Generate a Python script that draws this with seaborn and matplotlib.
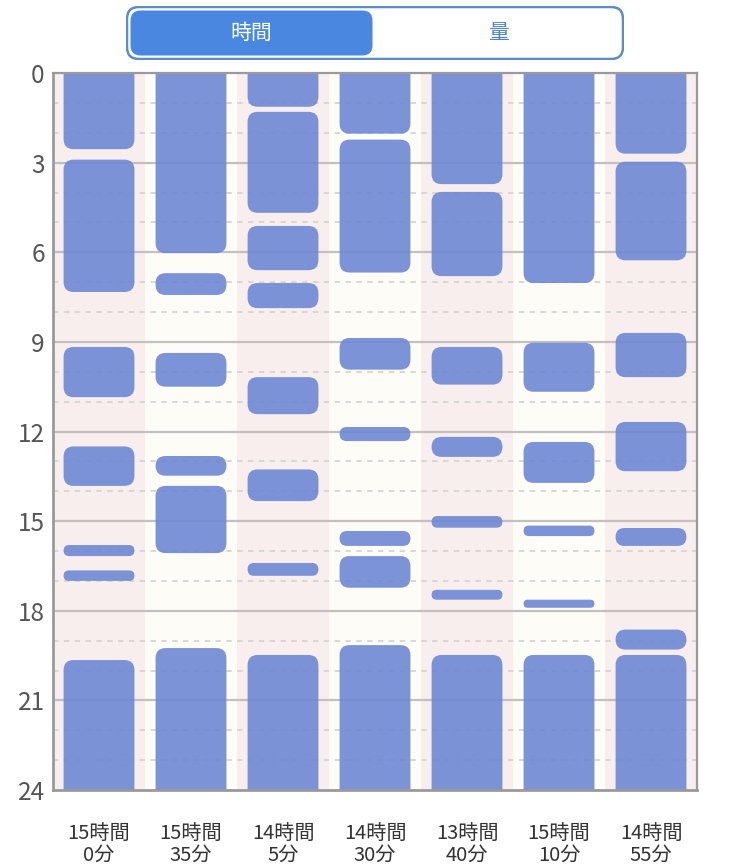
import matplotlib
matplotlib.use("Agg")
import matplotlib.pyplot as plt
from matplotlib.patches import FancyBboxPatch
import seaborn as sns

# ---------------- data ----------------
day_labels = ["15時間\n0分", "15時間\n35分", "14時間\n5分", "14時間\n30分",
              "13時間\n40分", "15時間\n10分", "14時間\n55分"]

# sleep segments (hours of day, 0 = top)
seg_starts = [
    [0.0, 2.9, 9.17, 12.5, 15.8, 16.65, 19.65],
    [0.0, 6.7, 9.37, 12.82, 13.82, 19.25],
    [0.0, 1.3, 5.12, 7.03, 10.18, 13.27, 16.4, 19.48],
    [0.0, 2.23, 8.87, 11.85, 15.33, 16.17, 19.15],
    [0.0, 3.98, 9.17, 12.18, 14.83, 17.3, 19.48],
    [0.0, 9.03, 12.35, 15.15, 17.63, 19.48],
    [0.0, 2.97, 8.7, 11.68, 15.23, 18.63, 19.48],
]
seg_ends = [
    [2.55, 7.33, 10.85, 13.82, 16.17, 17.0, 24.0],
    [6.03, 7.43, 10.5, 13.48, 16.07, 24.0],
    [1.13, 4.68, 6.6, 7.87, 11.42, 14.33, 16.83, 24.0],
    [2.03, 6.68, 9.93, 12.32, 15.83, 17.23, 24.0],
    [3.72, 6.8, 10.43, 12.85, 15.22, 17.63, 24.0],
    [7.03, 10.67, 13.72, 15.5, 17.9, 24.0],
    [2.7, 6.27, 10.18, 13.33, 15.83, 19.3, 24.0],
]
y_ticks = [0, 3, 6, 9, 12, 15, 18, 21, 24]
minor_ticks = [1, 2, 4, 5, 7, 8, 10, 11, 13, 14, 16, 17, 19, 20, 22, 23]
toggle_labels = ["時間", "量"]

# ---------------- style ----------------
sns.set_theme(style="white")
plt.rcParams['font.family'] = ['Noto Sans CJK JP', 'DejaVu Sans']

W, H = 750, 867
fig = plt.figure(figsize=(W / 100, H / 100), dpi=100)
fig.patch.set_facecolor("white")

L, R, T, B = 53, 697, 73, 790
ax = fig.add_axes([L / W, 1 - B / H, (R - L) / W, (B - T) / H])

n = len(day_labels)
ax.set_xlim(-0.5, n - 0.5)
ax.set_ylim(24, 0)

# column bands
band_cols = ["#f8eeee", "#fefcf7"]
for i in range(n):
    ax.axvspan(i - 0.5, i + 0.5, color=band_cols[i % 2], lw=0, zorder=0)

# grid
for t in minor_ticks:
    ax.axhline(t, color="#d8d4d4", lw=1.3, ls=(0, (3, 3)), zorder=1)
for t in y_ticks[1:-1]:
    ax.axhline(t, color="#c4c0c0", lw=1.6, zorder=1)

# bars
bar_color = "#6f88d4"
bar_w = 0.77
px_x = (R - L) / n
px_y = (B - T) / 24
aspect = px_x / px_y
rad_x = 10 / px_x
y_lo, y_hi = 0, 24
for i in range(n):
    starts = seg_starts[i]
    heights = [e - s for s, e in zip(starts, seg_ends[i])]
    bars = ax.bar([i] * len(starts), heights, bottom=starts, width=bar_w)
    for r in bars:
        x, y, w, h = r.get_x(), r.get_y(), r.get_width(), r.get_height()
        r.remove()
        # segments touching the day limits run flush into the frame
        ext = rad_x * aspect
        if y <= y_lo:
            y, h = y - ext, h + ext
        if y + h >= y_hi:
            h = h + ext
        rad = min(rad_x, w / 2, h / 2 / aspect)
        p = FancyBboxPatch((x, y), w, h,
                           boxstyle=f"round,pad=0,rounding_size={rad}",
                           mutation_aspect=aspect,
                           facecolor=bar_color, alpha=0.9, lw=0, zorder=2)
        ax.add_patch(p)
        p.set_clip_path(ax.patch)

# axes
ax.set_yticks(y_ticks)
ax.set_yticklabels([str(t) for t in y_ticks])
ax.set_xticks(range(n))
ax.set_xticklabels(day_labels, linespacing=1.0)
ax.tick_params(axis="y", length=0, pad=6, labelsize=17.5, labelcolor="#555555")
ax.tick_params(axis="x", length=0, pad=24, labelsize=14.5, labelcolor="#333333")
for side, lw in [("left", 2.0), ("bottom", 2.0), ("right", 1.6), ("top", 1.6)]:
    ax.spines[side].set_visible(True)
    ax.spines[side].set_color("#9a9a9a")
    ax.spines[side].set_linewidth(lw)
    ax.spines[side].set_zorder(5)
ax.grid(False)

# toggle control
tx0, ty0, tw, th = 126, 6, 498, 54
tax = fig.add_axes([tx0 / W, 1 - (ty0 + th) / H, tw / W, th / H])
tax.set_xlim(0, tw)
tax.set_ylim(0, th)
tax.axis("off")
tax.add_patch(FancyBboxPatch((1, 1), tw - 2, th - 2,
                             boxstyle="round,pad=0,rounding_size=12",
                             facecolor="white", edgecolor="#5e8cc4", lw=1.8))
tax.add_patch(FancyBboxPatch((4.5, 4.5), 242, th - 9,
                             boxstyle="round,pad=0,rounding_size=10",
                             facecolor="#4a87e0", edgecolor="none"))
tax.text(125, th / 2, toggle_labels[0], color="white", fontsize=15,
         ha="center", va="center")
tax.text(372, th / 2, toggle_labels[1], color="#4f84cc", fontsize=15,
         ha="center", va="center")

fig.savefig("out.png", dpi=100, facecolor="white")
